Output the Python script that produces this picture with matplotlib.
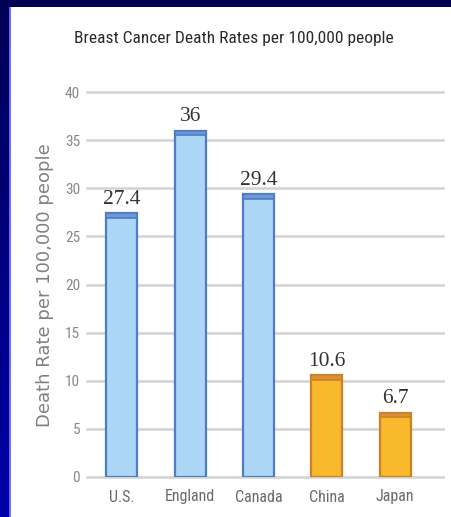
import matplotlib
matplotlib.use("Agg")
import matplotlib.pyplot as plt
import numpy as np
from matplotlib.patches import Rectangle

countries = ["U.S.", "England", "Canada", "China", "Japan"]
rates = [27.4, 36, 29.4, 10.6, 6.7]
rate_labels = ["27.4", "36", "29.4", "10.6", "6.7"]
yticks = [0, 5, 10, 15, 20, 25, 30, 35, 40]

COND = ["Roboto Condensed", "DejaVu Sans"]

W, H = 451, 517
fig = plt.figure(figsize=(W / 100, H / 100), dpi=100)

# background gradient (navy frame)
bg = fig.add_axes([0, 0, 1, 1])
grad = np.linspace(0, 1, 256).reshape(-1, 1)
top_c = np.array([0x00, 0x00, 0x55]) / 255
bot_c = np.array([0x00, 0x00, 0xA8]) / 255
img = top_c + (bot_c - top_c) * grad[..., None]
bg.imshow(img, aspect="auto", extent=[0, 1, 0, 1], origin="upper")
bg.add_patch(Rectangle((9 / W, 0), 2 / W, 1 - 7 / H, color="#6a6aff", lw=0))
bg.add_patch(Rectangle((11 / W, 0), (451 - 11) / W, 1 - 7 / H, color="white", lw=0))
bg.set_xlim(0, 1)
bg.set_ylim(0, 1)
bg.axis("off")

ax = fig.add_axes([87 / W, (H - 477) / H, (443 - 87) / W, (477 - 92) / H])
ax.patch.set_alpha(0)
x = np.arange(len(countries))
blue_fill, blue_edge, blue_top = "#acd6f6", "#4f7cc6", "#7098d6"
or_fill, or_edge, or_top = "#f9b92c", "#cf8024", "#d98e3c"
fills = [blue_fill] * 3 + [or_fill] * 2
edges = [blue_edge] * 3 + [or_edge] * 2
tops = [blue_top] * 3 + [or_top] * 2
band = 0.5
width = 0.45

for yv in yticks:
    ax.axhline(yv, color="#d2d2d2", lw=1.8, zorder=1, clip_on=False)

ax.bar(x, rates, width=width, color=fills, edgecolor=edges, linewidth=1.6, zorder=3)
ax.bar(x, [band] * len(rates), bottom=np.array(rates) - band, width=width,
       color=tops, edgecolor=edges, linewidth=1.2, zorder=4)

for xi, v, lab in zip(x, rates, rate_labels):
    ax.text(xi, v + 0.95, lab, ha="center", va="baseline", fontsize=15.5,
            family="Liberation Serif", color="#333333", zorder=5)

ax.set_xlim(-0.51, 4.70)
ax.set_ylim(0, 40)
ax.set_yticks(yticks)
ax.set_yticklabels([str(t) for t in yticks], family=COND,
                   fontsize=11, color="#888888")
ax.set_xticks(x)
ax.set_xticklabels(countries, family=COND, fontsize=11.5, color="#6a6a6a")
ax.tick_params(axis="both", length=0)
ax.tick_params(axis="y", pad=5)
ax.tick_params(axis="x", pad=9)
for s in ax.spines.values():
    s.set_visible(False)

fig.text(45 / W, 1 - 285 / H, "Death Rate per 100,000 people", rotation=90,
         ha="center", va="center", fontsize=13, color="#808080",
         family="DejaVu Sans")
fig.text(234 / W, 1 - 39 / H, "Breast Cancer Death Rates per 100,000 people",
         ha="center", va="center", fontsize=12.5, color="#2a2a2a",
         family=COND)

fig.savefig("out.png", dpi=100)
